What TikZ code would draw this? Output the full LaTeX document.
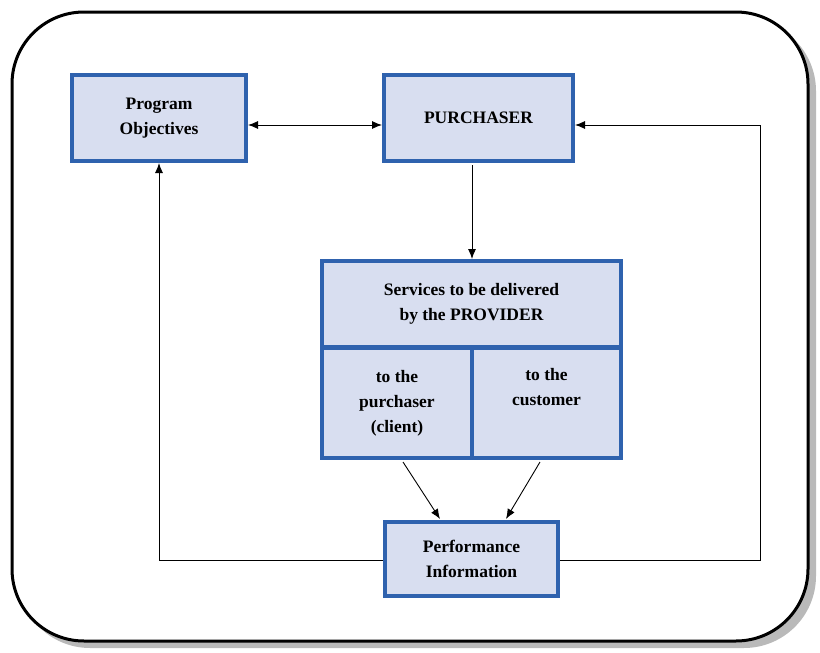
\documentclass[tikz,border=0pt]{standalone}
\usepackage{fontspec}
\setmainfont{Liberation Serif}
\usetikzlibrary{arrows.meta}
\definecolor{boxfill}{HTML}{D8DEF0}
\definecolor{boxline}{HTML}{2F62AE}
\tikzset{
  blk/.style={draw=boxline, fill=boxfill, line width=4pt, inner sep=2pt,
    align=center, font=\fontsize{17.5}{25}\selectfont\bfseries},
  conn/.style={line width=0.9pt, -{Latex[length=10pt,width=8pt]}},
  dconn/.style={line width=0.9pt, {Latex[length=10pt,width=8pt]}-{Latex[length=10pt,width=8pt]}}
}
\begin{document}
\begin{tikzpicture}[x=1pt,y=-1pt]
\useasboundingbox (0,0) rectangle (820,653);
% outer frame with shadow
\fill[gray!55, rounded corners=72pt] (18,19) rectangle (816,648);
\draw[fill=white, line width=3pt, rounded corners=72pt] (12,12) rectangle (808,641);
% boxes
\node[blk, minimum width=174pt, minimum height=86pt] (obj) at (159,118) {Program\\Objectives};
\node[blk, minimum width=189pt, minimum height=86pt] (pur) at (478.5,118) {PURCHASER};
\node[blk, minimum width=299pt, minimum height=86pt] (svc) at (471.5,304) {Services to be delivered\\by the PROVIDER};
\node[blk, minimum width=150pt, minimum height=110pt, anchor=north west] (svl) at (320,346) {to the\\purchaser\\(client)};
\node[blk, minimum width=149pt, minimum height=110pt, anchor=north east] (svr) at (623,346) {to the\\customer\\\strut};
\node[blk, minimum width=173pt, minimum height=74pt] (perf) at (471.5,559) {Performance\\Information};
% connectors
\draw[dconn] (obj.east |- 0,125) -- (pur.west |- 0,125);
\draw[conn] (472,165) -- (svc.north -| 472,0);
\draw[conn] (403,462) -- (440,519);
\draw[conn] (540,462) -- (506,519);
\draw[conn] (perf.west |- 0,560) -- (159,560) -- (obj.south);
\draw[conn] (perf.east |- 0,560) -- (760,560) -- (760,125) -- (pur.east |- 0,125);
\end{tikzpicture}
\end{document}
